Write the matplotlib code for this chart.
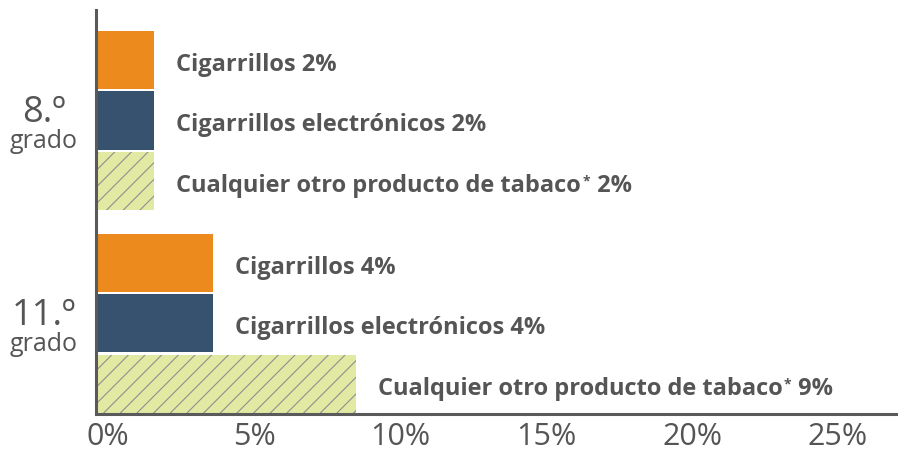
import matplotlib
matplotlib.use("Agg")
import matplotlib.pyplot as plt
import matplotlib.transforms as mtransforms

# data
grades = ["8.º", "11.º"]
products = ["Cigarrillos", "Cigarrillos electrónicos", "Cualquier otro producto de tabaco"]
values_8 = [2.0, 2.0, 2.0]
values_11 = [4.0, 4.0, 8.9]
value_labels_8 = ["2%", "2%", "2%"]
value_labels_11 = ["4%", "4%", "9%"]
tick_values = [0, 5, 10, 15, 20, 25]
tick_labels = ["0%", "5%", "10%", "15%", "20%", "25%"]

colors = ["#EC8A1E", "#36526F", "#E2E9A2"]
hatches = [None, None, "//"]
text_gray = "#555555"

plt.rcParams["font.family"] = ["Open Sans", "DejaVu Sans"]
plt.rcParams["hatch.color"] = "#8f8f8f"
plt.rcParams["hatch.linewidth"] = 0.8

fig = plt.figure(figsize=(8.98, 4.53), dpi=100)
ax = fig.add_axes([96 / 898, 1 - 414 / 453, 801 / 898, 404 / 453])

group_gap = 0.355
all_values = [values_8, values_11]
all_labels = [value_labels_8, value_labels_11]

# bars
for g, vals in enumerate(all_values):
    base = g * (3 + group_gap)
    for i, v in enumerate(vals):
        ax.barh(base + i, v, height=0.96, color=colors[i], hatch=hatches[i],
                edgecolor="none" if hatches[i] is None else "#8f8f8f", linewidth=0)

ax.set_xlim(0, 27.43)
ax.set_ylim(3 + group_gap + 2 + 0.497, -0.826)

fig.canvas.draw()
renderer = fig.canvas.get_renderer()

label_kw = dict(fontsize=17, fontweight="bold", color=text_gray)
for g, (vals, labs) in enumerate(zip(all_values, all_labels)):
    base = g * (3 + group_gap)
    for i, (v, lab) in enumerate(zip(vals, labs)):
        y = base + i
        trans = mtransforms.offset_copy(ax.transData, fig=fig, x=22, y=-11, units="dots")
        if i == 2:
            # product name, small raised asterisk, then the value
            t1 = ax.text(v, y, products[i], transform=trans, ha="left", va="baseline", **label_kw)
            bx, by = trans.transform((v, y))
            bb = t1.get_window_extent(renderer=renderer)
            t2 = ax.text(bb.x1 + 1, by + 17, "*", transform=None, ha="left", va="top",
                         fontsize=10, fontweight="bold", color=text_gray)
            bb2 = t2.get_window_extent(renderer=renderer)
            ax.text(bb2.x1 + 1, by, " " + lab, transform=None, ha="left", va="baseline", **label_kw)
        else:
            ax.text(v, y, products[i] + " " + lab, transform=trans, ha="left", va="baseline", **label_kw)

    # grade label on the left
    center = base + 1
    ytrans = ax.get_yaxis_transform()
    ax.text(-0.065, center, grades[g], transform=mtransforms.offset_copy(ytrans, fig=fig, y=-2, units="dots"),
            ha="center", va="baseline", fontsize=26, color=text_gray)
    ax.text(-0.065, center, "grado", transform=mtransforms.offset_copy(ytrans, fig=fig, y=-28, units="dots"),
            ha="center", va="baseline", fontsize=18, color=text_gray)

ax.set_xticks(tick_values)
ax.set_xticklabels(tick_labels, fontsize=22, color=text_gray)
ax.tick_params(axis="x", length=0, pad=6)
offset = mtransforms.ScaledTranslation(12 / 100, 0, fig.dpi_scale_trans)
for lbl in ax.get_xticklabels():
    lbl.set_transform(lbl.get_transform() + offset)
ax.set_yticks([])

for side in ["top", "right"]:
    ax.spines[side].set_visible(False)
for side in ["left", "bottom"]:
    ax.spines[side].set_color("#5a5a5a")
    ax.spines[side].set_linewidth(2.2)

fig.savefig("out.png", dpi=100)
